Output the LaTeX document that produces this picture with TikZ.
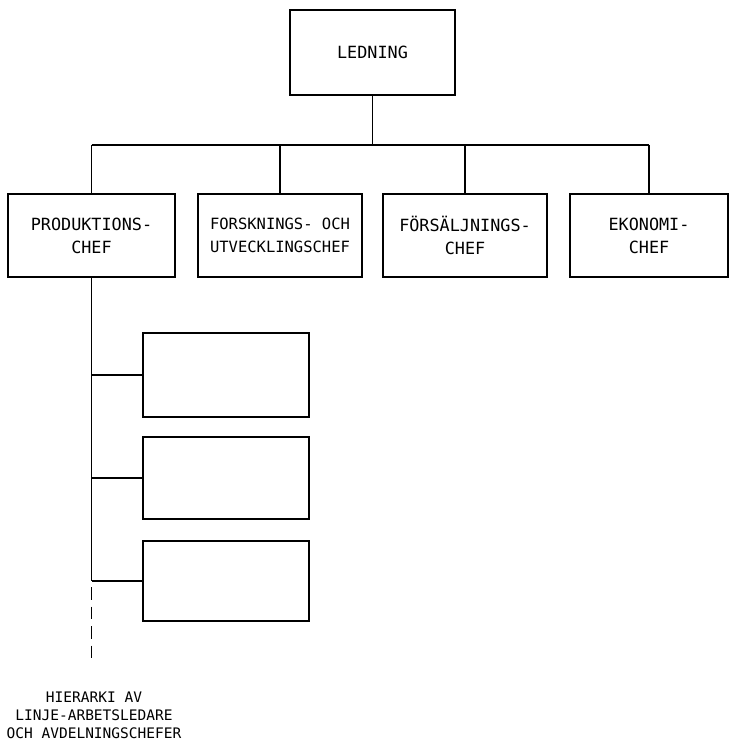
\documentclass[tikz,border=0pt]{standalone}
\usepackage{fontspec}
\setmonofont{DejaVu Sans Mono}
\begin{document}
\begin{tikzpicture}[x=1pt,y=-1pt,
  box/.style={draw, line width=1.2pt, inner sep=0pt, align=center,
    font=\ttfamily\fontsize{16.8}{23}\selectfont},
  topbox/.style={box, line width=2.6pt},
  conn/.style={line width=1.1pt},
  dashconn/.style={line width=1.1pt, dash pattern=on 12.5pt off 7pt}]
\useasboundingbox (0,0) rectangle (729,743);
% top
\node[topbox, minimum width=165pt, minimum height=85pt] (led) at (372.5,52.5) {LEDNING};
% level 2
\node[box, minimum width=167pt, minimum height=83pt] (prod) at (91.5,235.5) {PRODUKTIONS-\\CHEF};
\node[box, minimum width=164pt, minimum height=83pt, font=\ttfamily\fontsize{15.5}{23}\selectfont] (fou) at (280,235.5) {FORSKNINGS- OCH\\UTVECKLINGSCHEF};
\node[box, minimum width=164pt, minimum height=83pt] (fors) at (465,235.5) {FÖRSÄLJNINGS-\\CHEF};
\node[box, minimum width=158pt, minimum height=83pt] (eko) at (649,235.5) {EKONOMI-\\CHEF};
% sub boxes
\node[box, minimum width=166pt, minimum height=84pt] (s1) at (226,375) {};
\node[box, minimum width=166pt, minimum height=82pt] (s2) at (226,478) {};
\node[box, minimum width=166pt, minimum height=80pt] (s3) at (226,581) {};
% label
\node[align=center, inner sep=0pt, font=\ttfamily\fontsize{14.5}{18}\selectfont] (lab) at (94,715)
  {HIERARKI AV\\LINJE-ARBETSLEDARE\\OCH AVDELNINGSCHEFER};
% connectors
\coordinate (bus) at (372.5,145);
\draw[conn] (led.south) -- (bus);
\draw[conn] (prod.north |- bus) -- (eko.north |- bus);
\draw[conn] (prod.north |- bus) -- (prod.north);
\draw[conn] (fou.north |- bus) -- (fou.north);
\draw[conn] (fors.north |- bus) -- (fors.north);
\draw[conn] (eko.north |- bus) -- (eko.north);
\draw[conn] (prod.south) -- (prod.south |- s3.west);
\draw[conn] (prod.south |- s1.west) -- (s1.west);
\draw[conn] (prod.south |- s2.west) -- (s2.west);
\draw[conn] (prod.south |- s3.west) -- (s3.west);
\coordinate (dstart) at (91.5,587);
\coordinate (dend) at (91.5,665);
\draw[dashconn] (dstart) -- (dend);
\end{tikzpicture}
\end{document}
